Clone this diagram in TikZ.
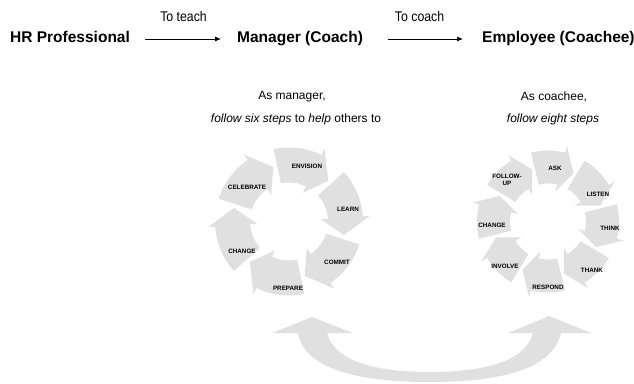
\documentclass[tikz,border=0pt]{standalone}
\usepackage{fontspec}
\setmainfont{Liberation Sans}
\newfontfamily\narrowfont[FakeStretch=0.88]{Liberation Sans}
\usepackage{tikz}
\usetikzlibrary{arrows.meta, positioning}

% one curved block arrow of a cycle: tail, head base, tip angle, inner and outer radius
\newcommand{\cyclearrow}[5]{%
  \fill[ringfill] (#1:#5) arc[start angle=#1, end angle=#2, radius=#5]
    -- (#2:{#5+7}) -- (#3:{(#4+#5)/2}) -- (#2:{#4-7}) -- (#2:#4)
    arc[start angle=#2, end angle=#1, radius=#4] -- cycle;}

\begin{document}
\begin{tikzpicture}[
    x=1pt, y=1pt,
    role/.style={inner sep=0pt, anchor=base west, text height=11.5pt, text depth=3.5pt,
      font=\fontsize{15.5}{18}\selectfont\bfseries},
    verb/.style={inner sep=0pt, font=\narrowfont\fontsize{14}{16}\selectfont},
    note/.style={inner sep=0pt, align=center, font=\fontsize{12}{14}\selectfont},
    stage/.style={inner sep=0pt, align=center, font=\fontsize{6.3}{7}\selectfont\bfseries},
    ringfill/.style={fill=black!12},
    link/.style={-{Latex[length=6pt,width=5pt]}, line width=0.8pt}
]
\useasboundingbox (0,0) rectangle (634,383);

% who teaches whom
\node[role] (hr)  at (10,340)  {HR Professional};
\node[role] (mgr) at (237,340) {Manager (Coach)};
\node[role] (emp) at (482,340) {Employee (Coachee)};

\draw[link, shorten <=15pt, shorten >=16pt] (hr) -- (mgr)
  node[verb, midway, above=17pt] {To teach};
\draw[link, shorten <=25pt, shorten >=19pt] (mgr) -- (emp)
  node[verb, midway, above=17pt, xshift=-3pt] {To coach};

% headings over the two cycles
\node[note] (mgrnote)  at (292,286) {As manager,};
\node[note] (mgrsteps) at (296,264) {\itshape follow six steps \upshape to \itshape help \upshape others to};
\node[note] (empnote)  at (554,286) {As coachee,};
\node[note] (empsteps) at (553,264) {\itshape follow eight steps};

% six step cycle
\begin{scope}[shift={(289,161.5)}]
  \foreach \t in {102,42,...,-198}{
    \cyclearrow{\t}{\t-38}{\t-56}{39}{74}
  }
\end{scope}

\node[stage] (envision)  at (307,217) {ENVISION};
\node[stage] (learn)     at (348,174) {LEARN};
\node[stage] (commit)    at (337,121) {COMMIT};
\node[stage] (prepare)   at (288,95)  {PREPARE};
\node[stage] (change)    at (242,132) {CHANGE};
\node[stage] (celebrate) at (247,196) {CELEBRATE};

% eight step cycle
\begin{scope}[shift={(548,161.5)}]
  \foreach \t in {104,59,...,-211}{
    \cyclearrow{\t}{\t-28}{\t-42}{38}{71}
  }
\end{scope}

\node[stage] (ask)      at (555,215) {ASK};
\node[stage] (listen)   at (598,189) {LISTEN};
\node[stage] (think)    at (610,155) {THINK};
\node[stage] (thank)    at (592,113) {THANK};
\node[stage] (respond)  at (548,96)  {RESPOND};
\node[stage] (involve)  at (505,117) {INVOLVE};
\node[stage] (change2)  at (492,158) {CHANGE};
\node[stage] (followup) at (507,203) {FOLLOW-\\UP};

% two way arrow between the cycles
\coordinate (lefttip)  at (312,66);
\coordinate (righttip) at (549,67);
\fill[ringfill] (lefttip) -- (353,50) -- (327,50)
  .. controls (335,20) and (380,11) .. (430,11)
  .. controls (480,11) and (525,20) .. (533,50)
  -- (508,50) -- (righttip) -- (591,50) -- (561,50)
  .. controls (552,10) and (490,1) .. (430,1)
  .. controls (370,1) and (305,10) .. (298,50)
  -- (272,50) -- cycle;

\end{tikzpicture}
\end{document}
